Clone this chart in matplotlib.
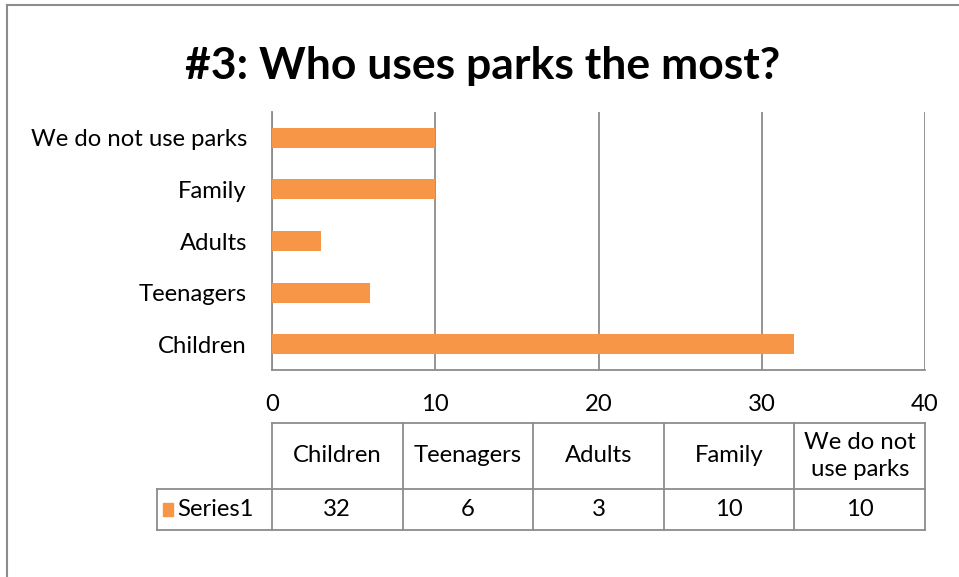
import matplotlib.pyplot as plt
from matplotlib.lines import Line2D
from matplotlib.patches import Rectangle

plt.rcParams['font.family'] = ['Lato', 'DejaVu Sans']

# chart data
categories = ["Children", "Teenagers", "Adults", "Family", "We do not use parks"]
table_headers = ["Children", "Teenagers", "Adults", "Family", "We do not\nuse parks"]
values = [32, 6, 3, 10, 10]
series_name = "Series1"
x_ticks = [0, 10, 20, 30, 40]
title = "#3: Who uses parks the most?"

W, H = 959, 577
bar_color = "#F79646"
grid_color = "#8C8C8C"
fs = 17.2

fig = plt.figure(figsize=(W / 100, H / 100), dpi=100)

# pixel helpers (top-left origin)
def fx(px):
    return px / W

def fy(py):
    return 1 - py / H

# plot area
left, right, top, bottom = 272, 925, 112, 370
ax = fig.add_axes([fx(left), fy(bottom), fx(right - left), (bottom - top) / H])
ypos = list(range(len(categories)))
ax.barh(ypos, values, height=0.39, color=bar_color, zorder=3)
ax.set_xlim(0, 40)
ax.set_ylim(-0.5, len(categories) - 0.5)
ax.set_xticks(x_ticks)
ax.set_yticks(ypos)
ax.set_yticklabels(categories)
ax.tick_params(axis='x', length=0, pad=17, labelsize=fs)
ax.tick_params(axis='y', length=0, pad=18, labelsize=fs)
ax.grid(axis='x', color=grid_color, linewidth=1.3, zorder=0)
for s in ["top", "right"]:
    ax.spines[s].set_visible(False)
for s in ["left", "bottom"]:
    ax.spines[s].set_color(grid_color)
    ax.spines[s].set_linewidth(1.3)

fig.text(fx(483), fy(66), title, ha='center', va='center',
         fontsize=32, fontweight='bold')

# data table under the chart
t_top, t_mid, t_bot = 423, 489, 530
legend_left = 157
n = len(categories)
col_w = (right - left) / n
edges = [left + i * col_w for i in range(n + 1)]

def hline(x0, x1, y):
    fig.add_artist(Line2D([fx(x0), fx(x1)], [fy(y), fy(y)], color=grid_color, lw=1.3))

def vline(x, y0, y1):
    fig.add_artist(Line2D([fx(x), fx(x)], [fy(y0), fy(y1)], color=grid_color, lw=1.3))

hline(left, right, t_top)
hline(legend_left, right, t_mid)
hline(legend_left, right, t_bot)
for e in edges:
    vline(e, t_top, t_bot)
vline(legend_left, t_mid, t_bot)

for i in range(n):
    cx = (edges[i] + edges[i + 1]) / 2
    fig.text(fx(cx), fy((t_top + t_mid) / 2), table_headers[i], ha='center',
             va='center', fontsize=fs, linespacing=1.4)
    fig.text(fx(cx), fy((t_mid + t_bot) / 2), str(values[i]), ha='center',
             va='center', fontsize=fs)

fig.add_artist(Rectangle((fx(163), fy(516)), fx(10), 13 / H, color=bar_color))
fig.text(fx(177), fy((t_mid + t_bot) / 2), series_name, ha='left', va='center',
         fontsize=fs)

# outer chart border (only left and top visible)
fig.add_artist(Line2D([fx(7), fx(7)], [fy(5), 0], color=grid_color, lw=1.5))
fig.add_artist(Line2D([fx(7), 1], [fy(5), fy(5)], color=grid_color, lw=1.5))

fig.savefig("out.png", dpi=100)
